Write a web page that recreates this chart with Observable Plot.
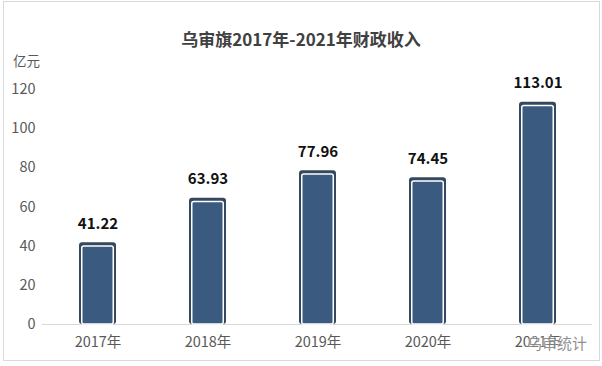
<!DOCTYPE html>
<html><head><meta charset="utf-8">
<script src="https://cdn.jsdelivr.net/npm/d3@7"></script>
<script src="https://cdn.jsdelivr.net/npm/@observablehq/plot@0.6"></script>
<style>
body{margin:0;background:#fff;font-family:"Noto Sans CJK SC","Noto Sans",sans-serif;}
#wrap{position:relative;width:602px;height:366px;overflow:hidden;}
#frame{position:absolute;left:3px;top:1px;width:597px;height:360px;border:1px solid #d9d9d9;box-sizing:border-box;pointer-events:none;}
#title{position:absolute;left:0;width:602px;top:27px;text-align:center;font-size:17px;font-weight:bold;color:#404040;line-height:24px;}
#unit{position:absolute;left:13px;top:51px;font-size:13.5px;color:#595959;line-height:18px;}
#wm{position:absolute;left:527px;top:333px;font-size:15px;color:#808080;line-height:20px;opacity:0.85;text-shadow:0 0 2px #fff,0 0 2px #fff;}
#chart{position:absolute;left:0;top:0;}
</style></head>
<body>
<div id="wrap">
<div id="chart"></div>
<div id="frame"></div>
<div id="title">乌审旗2017年-2021年财政收入</div>
<div id="unit">亿元</div>
<div id="wm">乌审统计</div>
</div>
<script>
const years = ["2017年","2018年","2019年","2020年","2021年"];
const revenue = [41.22, 63.93, 77.96, 74.45, 113.01];
const yTicks = [0,20,40,60,80,100,120];

const data = years.map((y,i)=>({year:y, value:revenue[i]}));
const outline = "#34495e";
const fill = "#3a5a80";

const chart = Plot.plot({
  width: 602,
  height: 366,
  marginTop: 89,
  marginBottom: 42,
  marginLeft: 42,
  marginRight: 10,
  style: {fontFamily: '"Noto Sans CJK SC","Noto Sans",sans-serif', background: "transparent"},
  x: {domain: years, paddingInner: 0.664, paddingOuter: 0.332, label: null},
  y: {domain: [0,120], ticks: yTicks, label: null},
  marks: [
    Plot.ruleY([0], {stroke: "#d9d9d9", strokeWidth: 1}),
    Plot.barY(data, {x: "year", y: "value", fill: outline, rx: 3, insetTop: -1}),
    Plot.barY(data, {x: "year", y: "value", fill: fill, stroke: "#ffffff", strokeWidth: 1.5, rx: 2, insetTop: 2.75, insetLeft: 2.75, insetRight: 2.75, insetBottom: 0}),
    Plot.text(data, {x: "year", y: "value", text: d => d.value.toFixed(2), dy: -20, fontSize: 15, fontWeight: "bold", fill: "#111"}),
    Plot.axisY({ticks: yTicks, tickSize: 0, tickPadding: 7, fontSize: 14.5, color: "#595959"}),
    Plot.axisX({tickSize: 0, tickPadding: 12, fontSize: 14.5, color: "#595959"})
  ]
});
document.getElementById("chart").appendChild(chart);
</script>
</body></html>
